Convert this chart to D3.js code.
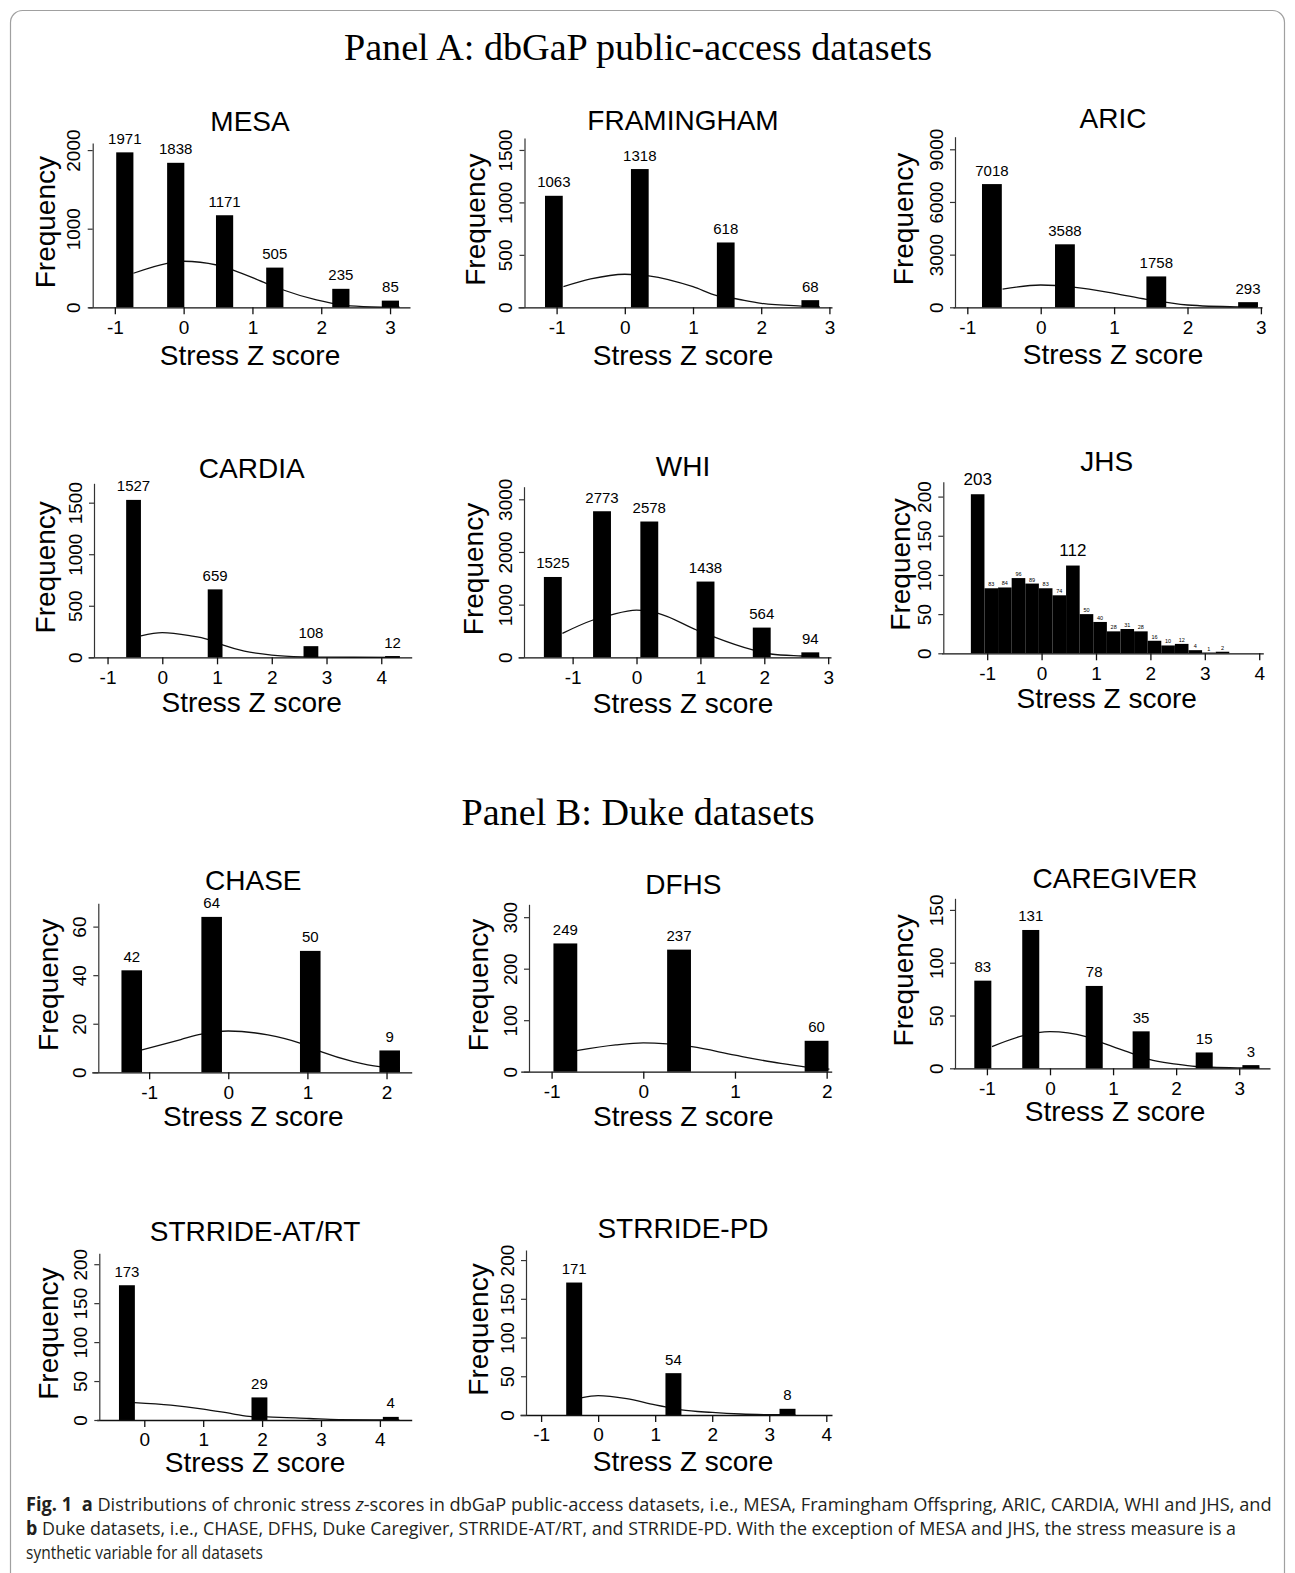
<!DOCTYPE html>
<html>
<head>
<meta charset="utf-8">
<script src="https://cdn.jsdelivr.net/npm/d3@7"></script>
<style>
  body { margin: 0; background: #fff; }
  svg text { font-family: "Liberation Sans", Arial, sans-serif; fill: #000; }
</style>
</head>
<body>
<div id="fig"></div>
<script>
// ---- data: bin starts (z), counts, fitted-curve points [z, freq] ----
var mesaStarts = [-0.98, -0.24, 0.47, 1.20, 2.16, 2.88],
    mesaCounts = [1971, 1838, 1171, 505, 235, 85],
    mesaCurve = [[-0.73, 433], [-0.24, 560], [0, 586], [0.48, 538], [0.72, 474], [1.2, 305], [1.45, 220], [1.93, 93], [2.16, 50], [2.42, 17], [2.88, 3], [3.14, 1]],
    mesaXTicks = [-1, 0, 1, 2, 3],
    mesaYTicks = [0, 1000, 2000];

var framStarts = [-1.17, 0.09, 1.35, 2.59],
    framCounts = [1063, 1318, 618, 68],
    framCurve = [[-0.9, 196], [-0.5, 270], [0, 315], [0.35, 300], [1, 196], [1.35, 111], [1.6, 84], [2, 38], [2.59, 12], [2.86, 5]],
    framXTicks = [-1, 0, 1, 2, 3],
    framYTicks = [0, 500, 1000, 1500];

var aricStarts = [-0.80, 0.195, 1.44, 2.69],
    aricCounts = [7018, 3588, 1758, 293],
    aricCurve = [[-0.52, 1040], [0, 1270], [0.47, 1140], [1.0, 797], [1.44, 455], [2, 130], [2.69, 20], [2.95, 8]],
    aricXTicks = [-1, 0, 1, 2, 3],
    aricYTicks = [0, 3000, 6000, 9000];

var cardiaStarts = [-0.66, 0.83, 2.58, 4.07],
    cardiaCounts = [1527, 659, 108, 12],
    cardiaCurve = [[-0.39, 207], [0, 239], [0.5, 210], [0.83, 175], [1.1, 120], [1.5, 60], [2, 22], [2.58, 5], [2.85, 2], [3.5, 0.5], [4.34, 0]],
    cardiaXTicks = [-1, 0, 1, 2, 3, 4],
    cardiaYTicks = [0, 500, 1000, 1500];

var whiStarts = [-1.45, -0.68, 0.06, 0.94, 1.82, 2.58],
    whiCounts = [1525, 2773, 2578, 1438, 564, 94],
    whiCurve = [[-1.16, 455], [-0.68, 708], [-0.41, 803], [0, 897], [0.34, 835], [0.94, 518], [1.2, 391], [1.82, 139], [2.1, 63], [2.58, 25], [2.86, 10]],
    whiXTicks = [-1, 0, 1, 2, 3],
    whiYTicks = [0, 1000, 2000, 3000];

var jhsBreaks = [-1.3, -1.05, -0.8, -0.55, -0.3, -0.05, 0.2, 0.45, 0.7, 0.95, 1.2, 1.45, 1.7, 1.95, 2.2, 2.45, 2.7, 2.95, 3.2, 3.45],
    jhsCounts = [203, 83, 84, 96, 89, 83, 74, 112, 50, 40, 28, 31, 28, 16, 10, 12, 4, 1, 2],
    jhsXTicks = [-1, 0, 1, 2, 3, 4],
    jhsYTicks = [0, 50, 100, 150, 200];

var chaseStarts = [-1.35, -0.34, 0.906, 1.91],
    chaseCounts = [42, 64, 50, 9],
    chaseCurve = [[-1.09, 9.2], [-0.6, 13.5], [-0.34, 15.7], [0, 17], [0.5, 15.4], [0.906, 12], [1.17, 8.5], [1.58, 4.4], [1.91, 2.3], [2.17, 1.8]],
    chaseXTicks = [-1, 0, 1, 2],
    chaseYTicks = [0, 20, 40, 60];

var dfhsStarts = [-0.98, 0.26, 1.76],
    dfhsCounts = [249, 237, 60],
    dfhsCurve = [[-0.73, 40.8], [-0.3, 52], [0, 56], [0.26, 54], [0.53, 48.5], [1, 32], [1.5, 16], [1.76, 9.5], [2.03, 5]],
    dfhsXTicks = [-1, 0, 1, 2],
    dfhsYTicks = [0, 100, 200, 300];

var careStarts = [-1.2, -0.44, 0.566, 1.31, 2.31, 3.05],
    careCounts = [83, 131, 78, 35, 15, 3],
    careCurve = [[-0.92, 20.5], [-0.44, 30.6], [0, 34.7], [0.57, 30], [0.83, 24], [1.31, 14], [1.57, 8.5], [2, 4], [2.31, 1.7], [2.57, 1], [3.05, 0.4], [3.32, 0.2]],
    careXTicks = [-1, 0, 1, 2, 3],
    careYTicks = [0, 50, 100, 150];

var atrtStarts = [-0.43, 1.82, 4.05],
    atrtCounts = [173, 29, 4],
    atrtCurve = [[-0.17, 22.2], [0.45, 19], [1, 14], [1.5, 8], [1.82, 4.3], [2.09, 3.9], [2.8, 1.9], [3.3, 0.5], [4.33, 0.2]],
    atrtXTicks = [0, 1, 2, 3, 4],
    atrtYTicks = [0, 50, 100, 150, 200];

var pdStarts = [-0.56, 1.18, 3.18],
    pdCounts = [171, 54, 8],
    pdCurve = [[-0.3, 22], [0, 25], [0.5, 21], [1, 13], [1.18, 10.5], [1.46, 6.6], [2, 3.3], [2.5, 1.3], [3.18, 0.3], [3.46, 0.2]],
    pdXTicks = [-1, 0, 1, 2, 3, 4],
    pdYTicks = [0, 50, 100, 150, 200];

var panelTitles = ["Panel A: dbGaP public-access datasets", "Panel B: Duke datasets"];
var xLabel = "Stress Z score",
    yLabel = "Frequency";

var captionLines = [
  [{t: "Fig. 1", b: true}, {t: "\u00a0\u00a0"}, {t: "a", b: true}, {t: " Distributions of chronic stress "}, {t: "z", i: true},
   {t: "-scores in dbGaP public-access datasets, i.e., MESA, Framingham Offspring, ARIC, CARDIA, WHI and JHS, and"}],
  [{t: "b", b: true}, {t: " Duke datasets, i.e., CHASE, DFHS, Duke Caregiver, STRRIDE-AT/RT, and STRRIDE-PD. With the exception of MESA and JHS, the stress measure is a"}],
  [{t: "synthetic variable for all datasets"}]
];

// ---- panels: data + where each sub-plot sits on the page ----
var panels = [
  {name: "MESA", starts: mesaStarts, counts: mesaCounts, binWidth: 0.25, curve: mesaCurve, xTicks: mesaXTicks, yTicks: mesaYTicks,
   left: 88, right: 410, axisX: 92.7, base: 307.3, top: 143, xDomain: [-1.39, 3.29], yMax: 2090, titleX: 250, titleY: 121, ylabX: 45, xlabY: 355},
  {name: "FRAMINGHAM", starts: framStarts, counts: framCounts, binWidth: 0.26, curve: framCurve, xTicks: framXTicks, yTicks: framYTicks,
   left: 518, right: 832, axisX: 524.5, base: 307.3, top: 138, xDomain: [-1.566, 3.038], yMax: 1614, titleX: 683, titleY: 120, ylabX: 475, xlabY: 355},
  {name: "ARIC", starts: aricStarts, counts: aricCounts, binWidth: 0.27, curve: aricCurve, xTicks: aricXTicks, yTicks: aricYTicks,
   left: 953, right: 1262, axisX: 955, base: 307.3, top: 136.7, xDomain: [-1.195, 3.015], yMax: 9717, titleX: 1113, titleY: 118, ylabX: 903, xlabY: 354},
  {name: "CARDIA", starts: cardiaStarts, counts: cardiaCounts, binWidth: 0.27, curve: cardiaCurve, xTicks: cardiaXTicks, yTicks: cardiaYTicks,
   left: 88, right: 411.7, axisX: 94, base: 657.3, top: 483.3, xDomain: [-1.357, 4.556], yMax: 1688, titleX: 251.7, titleY: 468, ylabX: 45, xlabY: 702},
  {name: "WHI", starts: whiStarts, counts: whiCounts, binWidth: 0.28, curve: whiCurve, xTicks: whiXTicks, yTicks: whiYTicks,
   left: 518, right: 831, axisX: 524, base: 657.3, top: 486.7, xDomain: [-1.855, 3.044], yMax: 3239, titleX: 683, titleY: 466.7, ylabX: 473, xlabY: 703},
  {name: "JHS", breaks: jhsBreaks, counts: jhsCounts, curve: null, xTicks: jhsXTicks, yTicks: jhsYTicks,
   left: 941.7, right: 1263.3, axisX: 943.3, base: 653.3, top: 481.7, xDomain: [-1.836, 4.075], yMax: 219, titleX: 1106.7, titleY: 461.7, ylabX: 900, xlabY: 698},
  {name: "CHASE", starts: chaseStarts, counts: chaseCounts, binWidth: 0.26, curve: chaseCurve, xTicks: chaseXTicks, yTicks: chaseYTicks,
   left: 91.7, right: 411.7, axisX: 98.3, base: 1072.3, top: 903.3, xDomain: [-1.726, 2.318], yMax: 69.6, titleX: 253.3, titleY: 880.5, ylabX: 48, xlabY: 1116},
  {name: "DFHS", starts: dfhsStarts, counts: dfhsCounts, binWidth: 0.26, curve: dfhsCurve, xTicks: dfhsXTicks, yTicks: dfhsYTicks,
   left: 520.7, right: 831.7, axisX: 529, base: 1071.7, top: 904.3, xDomain: [-1.337, 2.055], yMax: 325, titleX: 683.3, titleY: 884, ylabX: 478, xlabY: 1116},
  {name: "CAREGIVER", starts: careStarts, counts: careCounts, binWidth: 0.27, curve: careCurve, xTicks: careXTicks, yTicks: careYTicks,
   left: 953.3, right: 1270, axisX: 955, base: 1068.3, top: 898.3, xDomain: [-1.533, 3.488], yMax: 161, titleX: 1115, titleY: 878.3, ylabX: 903, xlabY: 1111},
  {name: "STRRIDE-AT/RT", starts: atrtStarts, counts: atrtCounts, binWidth: 0.27, curve: atrtCurve, xTicks: atrtXTicks, yTicks: atrtYTicks,
   left: 96.7, right: 411.7, axisX: 99.3, base: 1420, top: 1253.3, xDomain: [-0.808, 4.54], yMax: 214, titleX: 255, titleY: 1231.7, ylabX: 48, xlabY: 1462},
  {name: "STRRIDE-PD", starts: pdStarts, counts: pdCounts, binWidth: 0.28, curve: pdCurve, xTicks: pdXTicks, yTicks: pdYTicks,
   left: 520, right: 832, axisX: 526, base: 1415, top: 1250, xDomain: [-1.37, 4.1], yMax: 213, titleX: 683, titleY: 1228, ylabX: 478, xlabY: 1461}
];

var width = 1295,
    height = 1573;

var svg = d3.select("#fig").append("svg")
    .attr("width", width)
    .attr("height", height);

svg.append("rect")
    .attr("width", width)
    .attr("height", height)
    .attr("fill", "#fff");

// rounded frame of the journal figure box
svg.append("rect")
    .attr("x", 10.5)
    .attr("y", 10.5)
    .attr("width", 1274)
    .attr("height", 1640)
    .attr("rx", 12)
    .attr("fill", "none")
    .attr("stroke", "#a0a0a0")
    .attr("stroke-width", 1.2);

// section headings
[[panelTitles[0], 638, 47], [panelTitles[1], 638, 812]].forEach(function(h) {
  svg.append("text")
      .attr("x", h[1])
      .attr("y", h[2])
      .attr("text-anchor", "middle")
      .attr("dominant-baseline", "central")
      .style("font-family", '"Liberation Serif", "Times New Roman", serif')
      .style("font-size", "38.2px")
      .text(h[0]);
});

panels.forEach(drawPanel);
drawCaption();

function drawPanel(p) {
  var x = d3.scaleLinear().domain(p.xDomain).range([p.left, p.right]);
  var y = d3.scaleLinear().domain([0, p.yMax]).range([p.base, p.top]);
  var g = svg.append("g").attr("class", "panel");

  var bins = p.counts.map(function(c, i) {
    if (p.breaks) return {x0: p.breaks[i], x1: p.breaks[i + 1], n: c};
    return {x0: p.starts[i], x1: p.starts[i] + p.binWidth, n: c};
  });

  if (p.curve) {
    g.append("path")
        .datum(p.curve)
        .attr("fill", "none")
        .attr("stroke", "#111")
        .attr("stroke-width", 1.3)
        .attr("d", d3.line()
          .x(function(d) { return x(d[0]); })
          .y(function(d) { return y(d[1]); })
          .curve(d3.curveMonotoneX));
  }

  g.selectAll("rect.bar")
    .data(bins)
    .enter()
      .append("rect")
      .attr("class", "bar")
      .attr("x", function(d) { return x(d.x0); })
      .attr("width", function(d) { return x(d.x1) - x(d.x0); })
      .attr("y", function(d) { return y(d.n); })
      .attr("height", function(d) { return y(0) - y(d.n); })
      .attr("fill", "#000");

  var small = !!p.breaks;
  g.selectAll("text.count")
    .data(bins)
    .enter()
      .append("text")
      .attr("class", "count")
      .attr("x", function(d) { return (x(d.x0) + x(d.x1)) / 2; })
      .attr("y", function(d) {
        if (small && d.n < 100) return y(d.n) - 4;
        return y(d.n) - (small ? 15 : 14);
      })
      .attr("text-anchor", "middle")
      .attr("dominant-baseline", "central")
      .style("font-size", function(d) {
        if (small) return d.n > 100 ? "17px" : "5.5px";
        return "15px";
      })
      .text(function(d) { return d.n; });

  // x axis (line runs across the whole plot width, as in the original)
  var xAxis = d3.axisBottom(x)
      .tickValues(p.xTicks)
      .tickSize(7)
      .tickSizeOuter(0)
      .tickPadding(6)
      .tickFormat(function(d) { return String(d); });
  var gx = g.append("g")
      .attr("transform", "translate(0," + p.base + ")")
      .call(xAxis);
  gx.select(".domain").attr("stroke", "#111").attr("stroke-width", 1.3);
  gx.selectAll(".tick line").attr("stroke", "#111").attr("stroke-width", 1.3);
  gx.selectAll(".tick text")
      .attr("fill", "#000")
      .style("font-size", "19px")
      .style("font-family", '"Liberation Sans", Arial, sans-serif');

  // y axis with labels parallel to the axis
  var yAxis = d3.axisLeft(y)
      .tickValues(p.yTicks)
      .tickSize(5)
      .tickSizeOuter(0)
      .tickFormat(function(d) { return String(d); });
  var gy = g.append("g")
      .attr("transform", "translate(" + p.axisX + ",0)")
      .call(yAxis);
  gy.select(".domain").attr("stroke", "#333").attr("stroke-width", 1.2);
  gy.selectAll(".tick line").attr("stroke", "#333").attr("stroke-width", 1.2);
  gy.selectAll(".tick text")
      .attr("fill", "#000")
      .attr("x", 0)
      .attr("y", -12.5)
      .attr("dy", null)
      .attr("transform", "rotate(-90)")
      .attr("text-anchor", "middle")
      .style("font-size", "19px")
      .style("font-family", '"Liberation Sans", Arial, sans-serif');

  g.append("text")
      .attr("x", p.titleX)
      .attr("y", p.titleY)
      .attr("text-anchor", "middle")
      .attr("dominant-baseline", "central")
      .style("font-size", "28px")
      .text(p.name);

  g.append("text")
      .attr("x", p.titleX)
      .attr("y", p.xlabY)
      .attr("text-anchor", "middle")
      .attr("dominant-baseline", "central")
      .style("font-size", "28px")
      .text(xLabel);

  g.append("text")
      .attr("transform", "translate(" + p.ylabX + "," + ((p.base + p.top) / 2 - 3) + ") rotate(-90)")
      .attr("text-anchor", "middle")
      .attr("dominant-baseline", "central")
      .style("font-size", "28px")
      .text(yLabel);
}

function drawCaption() {
  var lineY = [1511, 1535, 1559],
      lineWidth = [1246, 1211, 237];
  captionLines.forEach(function(parts, k) {
    var t = svg.append("text")
        .attr("x", 0)
        .attr("y", 0)
        .style("font-family", '"Open Sans", "Noto Sans", sans-serif')
        .style("font-size", "19px");
    parts.forEach(function(s) {
      t.append("tspan")
          .style("font-weight", s.b ? "700" : "400")
          .style("font-style", s.i ? "italic" : "normal")
          .style("fill", "#231f20")
          .text(s.t);
    });
    var natural = t.node().getComputedTextLength();
    t.attr("transform", "translate(26," + lineY[k] + ") scale(" + (lineWidth[k] / natural) + ",1)");
  });
}
</script>
</body>
</html>
